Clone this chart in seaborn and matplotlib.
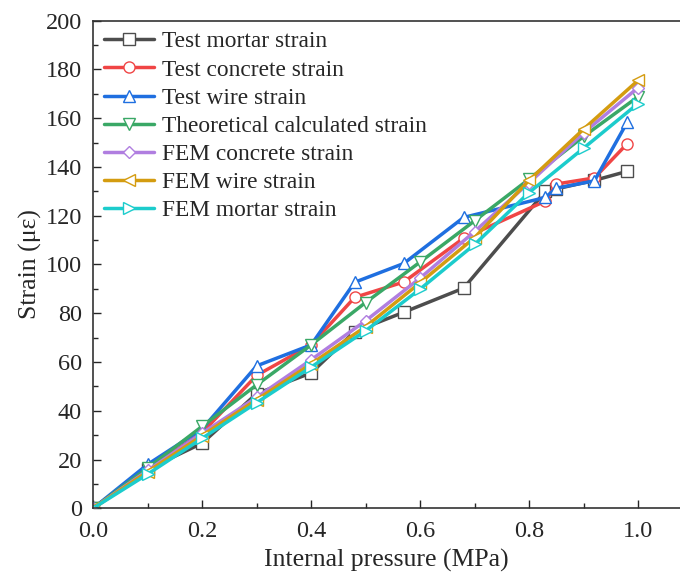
import matplotlib
matplotlib.use("Agg")
import matplotlib.pyplot as plt
import seaborn as sns
from matplotlib.ticker import MultipleLocator, FormatStrFormatter

# test measurements (uneven pressure steps)
p_test = [0, 0.1, 0.2, 0.3, 0.4, 0.48, 0.57, 0.68, 0.83, 0.85, 0.92, 0.98]
test_mortar = [0, 16, 26.7, 47, 55.5, 72.5, 80.4, 90.3, 130, 131, 134.5, 138.2]
test_concrete = [0, 16, 31, 54.5, 67, 86.5, 92.8, 110.8, 126, 133, 135.5, 149.5]
test_wire = [0, 18, 32.5, 58.4, 67, 92.7, 100.4, 119.3, 127.5, 131.3, 134.3, 158.3]

# theory / FEM
p_calc = [0, 0.1, 0.2, 0.3, 0.4, 0.5, 0.6, 0.7, 0.8, 0.9, 1.0]
theory = [0, 16.5, 33.6, 50.6, 67, 84.4, 101, 117.9, 135, 152.5, 168.8]
fem_concrete = [0, 15.5, 30.8, 45.5, 60.9, 76.9, 94.4, 113.5, 133.5, 154, 172.5]
fem_wire = [0, 15, 29.8, 44.5, 59.2, 74.5, 92.5, 111, 134.5, 155.5, 175.5]
fem_mortar = [0, 14, 28.7, 43.3, 57.9, 72.8, 89.9, 108.2, 129.5, 147.7, 166]

series = [
    ("Test mortar strain", p_test, test_mortar, "#4d4d4d", "s"),
    ("Test concrete strain", p_test, test_concrete, "#f04545", "o"),
    ("Test wire strain", p_test, test_wire, "#1f6fe0", "^"),
    ("Theoretical calculated strain", p_calc, theory, "#3aa866", "v"),
    ("FEM concrete strain", p_calc, fem_concrete, "#b07ee0", "D"),
    ("FEM wire strain", p_calc, fem_wire, "#d49c10", "<"),
    ("FEM mortar strain", p_calc, fem_mortar, "#1ccccc", ">"),
]

sns.set_style("ticks")
plt.rcParams["font.family"] = ["Liberation Serif", "DejaVu Serif"]

fig = plt.figure(figsize=(6.8, 5.74), dpi=100)
ax = fig.add_axes([0.137, 0.1145, 0.863, 0.8495])

for name, x, y, c, m in series:
    ms = 6.5 if m == "D" else 8
    sns.lineplot(x=x, y=y, ax=ax, color=c, marker=m, markersize=ms,
                 markerfacecolor="white", markeredgecolor=c,
                 markeredgewidth=1.0, linewidth=2.5, label=name,
                 estimator=None, sort=False)

ax.set_xlim(0, 1.077)
ax.set_ylim(0, 200)
ax.xaxis.set_major_locator(MultipleLocator(0.2))
ax.xaxis.set_minor_locator(MultipleLocator(0.1))
ax.yaxis.set_major_locator(MultipleLocator(20))
ax.yaxis.set_minor_locator(MultipleLocator(10))
ax.xaxis.set_major_formatter(FormatStrFormatter("%.1f"))
ax.tick_params(which="both", direction="in", labelsize=17.5, width=1.0)
ax.tick_params(which="major", length=6)
ax.tick_params(which="minor", length=3.5)
ax.tick_params(axis="x", pad=9)
ax.tick_params(axis="y", pad=8)

for s in ["left", "bottom", "top"]:
    ax.spines[s].set_linewidth(1.2)
    ax.spines[s].set_color("#333333")
ax.spines["right"].set_visible(False)

ax.set_xlabel("Internal pressure (MPa)", fontsize=18.5, labelpad=5)
ax.set_ylabel("Strain (\u03bc\u03b5)", fontsize=18.5, labelpad=3)

ax.legend(loc="upper left", frameon=False, fontsize=16.8, handlelength=2.15,
          labelspacing=0.29, borderaxespad=0.15, borderpad=0.3,
          handletextpad=0.35)

fig.savefig("out.png", dpi=100)
